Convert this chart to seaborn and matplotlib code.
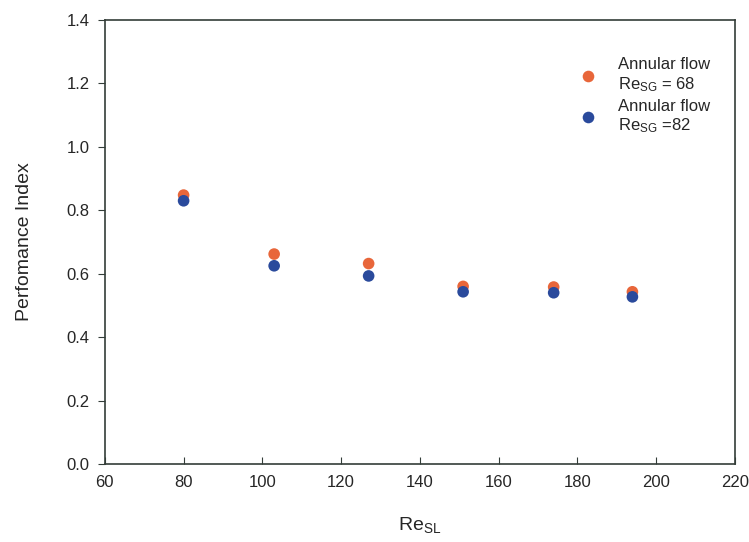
import pandas as pd
import seaborn as sns
import matplotlib.pyplot as plt

# Superficial liquid Reynolds number
re_sl = [80, 103, 127, 151, 174, 194]

# Performance index for the two gas Reynolds numbers
pi_sg68 = [0.848, 0.662, 0.632, 0.560, 0.558, 0.543]
pi_sg82 = [0.830, 0.625, 0.593, 0.543, 0.540, 0.527]

series_labels = ["Annular flow\nRe$_{SG}$ = 68", "Annular flow\nRe$_{SG}$ =82"]

data = pd.DataFrame({
    "Re_SL": re_sl + re_sl,
    "PI": pi_sg68 + pi_sg82,
    "series": [series_labels[0]] * len(re_sl) + [series_labels[1]] * len(re_sl),
})

sns.set_style("ticks")
plt.rcParams["font.family"] = ["Liberation Sans", "DejaVu Sans"]
plt.rcParams["mathtext.fontset"] = "custom"
plt.rcParams["mathtext.rm"] = "Liberation Sans"
plt.rcParams["mathtext.it"] = "Liberation Sans"

fig = plt.figure(figsize=(7.49, 5.42), dpi=100)
ax = fig.add_axes([0.140, 0.144, 0.841, 0.819])

sns.scatterplot(data=data, x="Re_SL", y="PI", hue="series",
                palette=["#e8663a", "#2a4a9c"], s=70, edgecolor="none",
                ax=ax, zorder=3)

ax.set_xlim(60, 220)
ax.set_ylim(0, 1.4)
ax.set_xticks(range(60, 221, 20))
ax.set_yticks([0.0, 0.2, 0.4, 0.6, 0.8, 1.0, 1.2, 1.4])
ax.set_yticklabels([f"{v:.1f}" for v in ax.get_yticks()])

for side in ["top", "right", "left", "bottom"]:
    ax.spines[side].set_visible(True)
    ax.spines[side].set_color("#333d38")
    ax.spines[side].set_linewidth(1.2)

ax.tick_params(axis="x", direction="in", length=5, labelsize=12, pad=8, color="#333d38")
ax.tick_params(axis="y", direction="out", length=5, labelsize=12, pad=6, color="#333d38")

ax.set_xlabel("Re$_{SL}$", fontsize=14, labelpad=18)
ax.set_ylabel("Perfomance Index", fontsize=14, labelpad=24)

leg = ax.legend(title=None, loc="upper right", frameon=False, fontsize=12,
                bbox_to_anchor=(0.985, 0.95), handletextpad=0.8,
                labelspacing=0.3, markerscale=1.0)

fig.savefig("out.png", dpi=100)
